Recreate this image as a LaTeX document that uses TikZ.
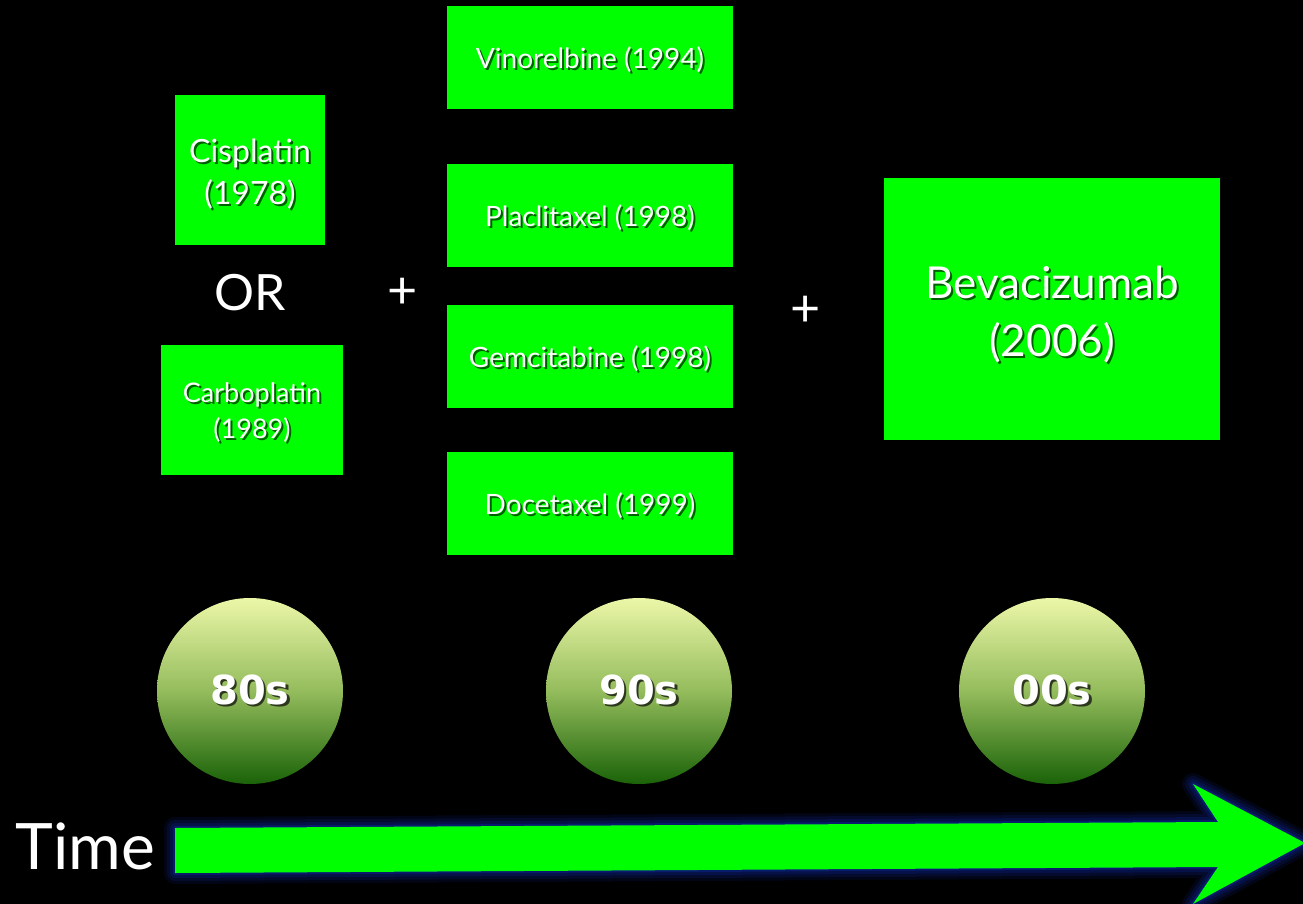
\documentclass[tikz,border=0pt]{standalone}
\usepackage{fontspec}
\setmainfont{Lato}
\newfontfamily\erafont{DejaVu Sans}
\definecolor{vivid}{RGB}{0,255,0}
\definecolor{glowblue}{RGB}{20,55,215}
\definecolor{eratop}{RGB}{236,247,168}
\definecolor{eramid}{RGB}{148,188,92}
\definecolor{erabot}{RGB}{26,98,8}
\definecolor{boxshade}{RGB}{0,95,0}
\definecolor{erashade}{RGB}{45,55,30}
% white text with a small dark drop shadow
\newcommand\dropped[3]{\leavevmode\rlap{\hspace{#1}\raisebox{-#1}{\textcolor{#2}{#3}}}#3}
\newcommand\onbox[1]{\dropped{2pt}{boxshade}{#1}}
\newcommand\onball[1]{\dropped{2.5pt}{erashade}{#1}}
% two centred lines, lowered by #1 and taking no room of their own
\newcommand\twolines[4]{\raisebox{#1}[0pt][0pt]{\begin{tabular}{@{}c@{}}\onbox{#3}\\[#2]\onbox{#4}\end{tabular}}}
\begin{document}
\begin{tikzpicture}[x=1pt,y=-1pt,
  drugbox/.style={fill=vivid, text=white, align=center, inner sep=0pt},
  eraball/.style={circle, minimum size=186pt, inner sep=0pt,
    top color=eratop, bottom color=erabot, middle color=eramid,
    text=white, font=\erafont\bfseries\fontsize{40}{44}\selectfont},
  joiner/.style={text=white, inner sep=0pt}]
\fill[black] (0,0) rectangle (1303,904);
\useasboundingbox (0,0) rectangle (1303,904);

% 80s: platinum agents
\node[drugbox, minimum width=150pt, minimum height=149pt,
  font=\fontsize{32}{42}\selectfont] (cis) at (250,170)
  {\twolines{-11pt}{0pt}{Cisplatin}{(1978)}};
\node[joiner, font=\fontsize{50}{54}\selectfont] (or) at (250,293) {OR};
\node[drugbox, minimum width=182pt, minimum height=130pt,
  font=\fontsize{27}{36}\selectfont] (carbo) at (252,410)
  {\twolines{-10pt}{0pt}{Carboplatin}{(1989)}};
\node[joiner, font=\fontsize{52}{56}\selectfont] (plusA) at (403,293) {+};

% 90s: third-generation agents
\begin{scope}[every node/.style={drugbox, minimum width=286pt,
    minimum height=103pt, text height=22pt, text depth=0pt,
    font=\fontsize{28}{32}\selectfont}]
  \node (vino) at (590,58) {\onbox{Vinorelbine (1994)}};
  \node (pacli) at (590,215.5) {\onbox{Placlitaxel (1998)}};
  \node (gem) at (590,356.5) {\onbox{Gemcitabine (1998)}};
  \node (doce) at (590,503.5) {\onbox{Docetaxel (1999)}};
\end{scope}
\node[joiner, font=\fontsize{52}{56}\selectfont] (plusB) at (806,311) {+};

% 00s: targeted agent
\node[drugbox, minimum width=336pt, minimum height=261pt,
  font=\fontsize{44}{58}\selectfont] (beva) at (1052,309)
  {\twolines{-13pt}{0pt}{Bevacizumab}{(2006)}};

% decades
\node[eraball] (d80) at (250,691) {\onball{80s}};
\node[eraball] (d90) at (639,691) {\onball{90s}};
\node[eraball] (d00) at (1052,691) {\onball{00s}};

% time arrow
\coordinate (tl) at (175,828);
\coordinate (nt) at (1218,822);
\coordinate (ht) at (1193,784);
\coordinate (tip) at (1305,843);
\coordinate (hb) at (1193,904);
\coordinate (nb) at (1218,867);
\coordinate (bl) at (175,873);
\begin{scope}[shift={(3,17)}]
  \foreach \w/\o in {22/0.10,16/0.12,10/0.16,4/0.25}
    \filldraw[glowblue, opacity=\o, line width=\w pt, line join=round]
      (tl) -- (nt) -- (ht) -- (tip) -- (hb) -- (nb) -- (bl) -- cycle;
\end{scope}
\fill[vivid] (tl) -- (nt) -- (ht) -- (tip) -- (hb) -- (nb) -- (bl) -- cycle;
\node[joiner, font=\fontsize{64}{70}\selectfont] (time) at (85,846) {Time};
\end{tikzpicture}
\end{document}
